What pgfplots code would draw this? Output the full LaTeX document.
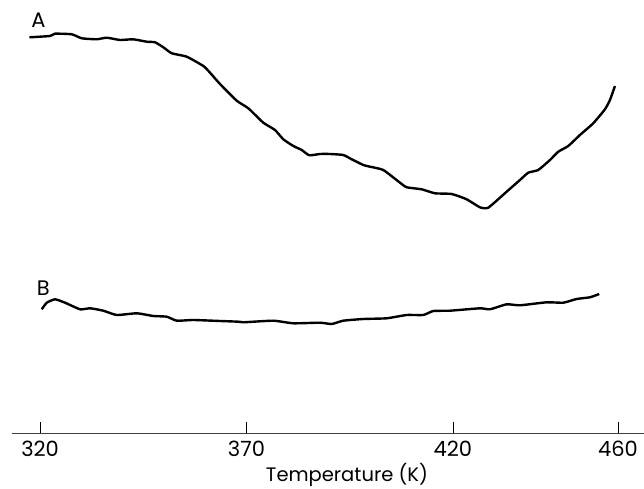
\documentclass[border=0pt]{standalone}
\usepackage{pgfplots}
\pgfplotsset{compat=1.18}
\usepackage{fontspec}
\setmainfont{Poppins}
\begin{document}
\begin{tikzpicture}
\useasboundingbox (-12pt,-56pt) rectangle (632pt,433pt);
\begin{axis}[
  at={(0pt,0pt)}, anchor=south west,
  scale only axis, width=632pt, height=433pt,
  xmin=313.2, xmax=466.3, ymin=0, ymax=433,
  axis x line=bottom, axis y line=none,
  axis line style={-, line width=0.7pt, black!75},
  xtick={320,370,420,460},
  xticklabels={320,370,420,460},
  tick align=inside,
  major tick length=11pt,
  tick style={line width=0.6pt, black},
  /pgf/number format/assume math mode=true,
  ticklabel style={font=\fontsize{21}{23}\selectfont},
  xticklabel style={anchor=center, yshift=-16pt},
  xlabel={Temperature (K)},
  xlabel style={font=\fontsize{19.5}{22}\selectfont, at={(axis description cs:0.530,0)}, anchor=center, yshift=-42pt},
  clip=false,
]
\addplot[black, line width=2.4pt, line join=round, smooth, tension=0.3] coordinates {
(317.41,395.7)(322.42,397)(323.63,399.3)(327.68,398.7)(330.10,394.7)(333.73,393.7)
(336.15,395.3)(339.38,393)(342.52,393.7)(345.84,391.3)(347.85,390.7)(349.86,385.7)
(351.90,379.7)(355.53,376.3)(359.55,367)(361.17,360.3)(363.59,349)(367.64,332.3)
(370.45,324.7)(374.08,310.3)(376.91,303)(378.92,293.7)(381.35,287)(383.38,283)
(385.22,277.7)(387.81,279)(390.23,279)(393.46,278)(395.49,273.7)(398.30,268)
(399.92,266.3)(403.14,263)(407.19,250.3)(408.81,245.7)(412.44,243.7)(415.66,239.7)
(419.71,239)(423.34,233.7)(426.56,225.7)(428.57,225.3)(433.03,241.3)(436.25,253)
(438.26,260.3)(440.68,263)(443.52,273)(445.53,281.3)(447.95,287)(450.78,298)
(454.00,309.7)(456.84,323.7)(458.05,333)(459.26,347)
};
\addplot[black, line width=2.4pt, line join=round, smooth, tension=0.3] coordinates {
(320.41,123.7)(321.62,130.3)(323.63,133.7)(326.05,130.3)(329.69,123.7)(332.11,124.7)
(335.33,122.3)(338.58,118)(343.42,119.7)(347.44,117)(350.69,116.3)(353.11,112.3)
(357.13,113)(363.59,112)(368.03,111.3)(369.24,110.7)(376.50,112.3)(381.35,109.7)
(387.81,110.3)(390.65,109)(393.46,112.3)(398.30,114)(403.97,114.7)(408.81,118)
(412.83,118)(415.25,122)(419.30,122.3)(426.56,124.7)(428.99,123.7)(433.03,128.7)
(436.25,127.7)(442.72,130.7)(446.74,130.3)(449.98,134)(453.20,135.7)(455.45,139)
};
\node[font=\fontsize{21}{23}\selectfont] at (axis cs:319.6,413) {A};
\node[font=\fontsize{21}{23}\selectfont] at (axis cs:320.8,145) {B};
\end{axis}
\end{tikzpicture}
\end{document}
